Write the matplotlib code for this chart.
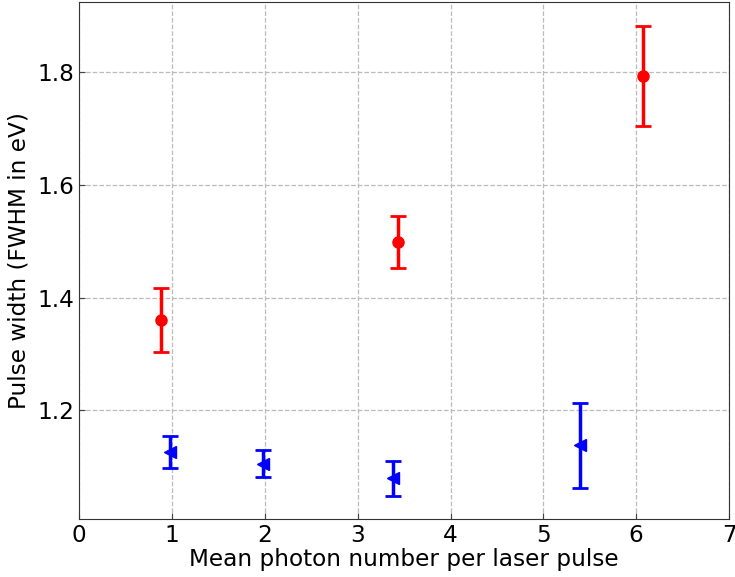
import matplotlib
matplotlib.use("Agg")
import matplotlib.pyplot as plt

# Red series (circles)
red_x = [0.88, 3.43, 6.07]
red_y = [1.360, 1.499, 1.794]
red_err = [0.057, 0.046, 0.089]

# Blue series (left triangles)
blue_x = [0.975, 1.98, 3.38, 5.39]
blue_y = [1.126, 1.105, 1.080, 1.138]
blue_err = [0.028, 0.024, 0.031, 0.076]

xticks = [0, 1, 2, 3, 4, 5, 6, 7]
yticks = [1.2, 1.4, 1.6, 1.8]

fig = plt.figure(figsize=(7.35, 5.77), dpi=100)
ax = fig.add_axes([0.1075, 0.1005, 0.8845, 0.896])

ax.errorbar(red_x, red_y, yerr=red_err, fmt='o', color='red', ecolor='red',
            markersize=8, elinewidth=2.5, capsize=5.5, capthick=2, zorder=3)
ax.errorbar(blue_x, blue_y, yerr=blue_err, fmt='<', color='blue', ecolor='blue',
            markersize=8, elinewidth=2.5, capsize=5.5, capthick=2, zorder=3)

ax.set_xlim(0, 7)
ax.set_xticks(xticks)
ax.set_yticks(yticks)
ax.grid(True, linestyle='--', color='#bbbbbb', linewidth=0.9)
ax.set_axisbelow(True)
ax.tick_params(direction='in', labelsize=16.7, length=4, color='#444444')
for s in ax.spines.values():
    s.set_color('#333333')
ax.set_xlabel('Mean photon number per laser pulse', fontsize=16.7, labelpad=1)
ax.set_ylabel('Pulse width (FWHM in eV)', fontsize=16.7, labelpad=5)

fig.savefig('out.png', dpi=100)
